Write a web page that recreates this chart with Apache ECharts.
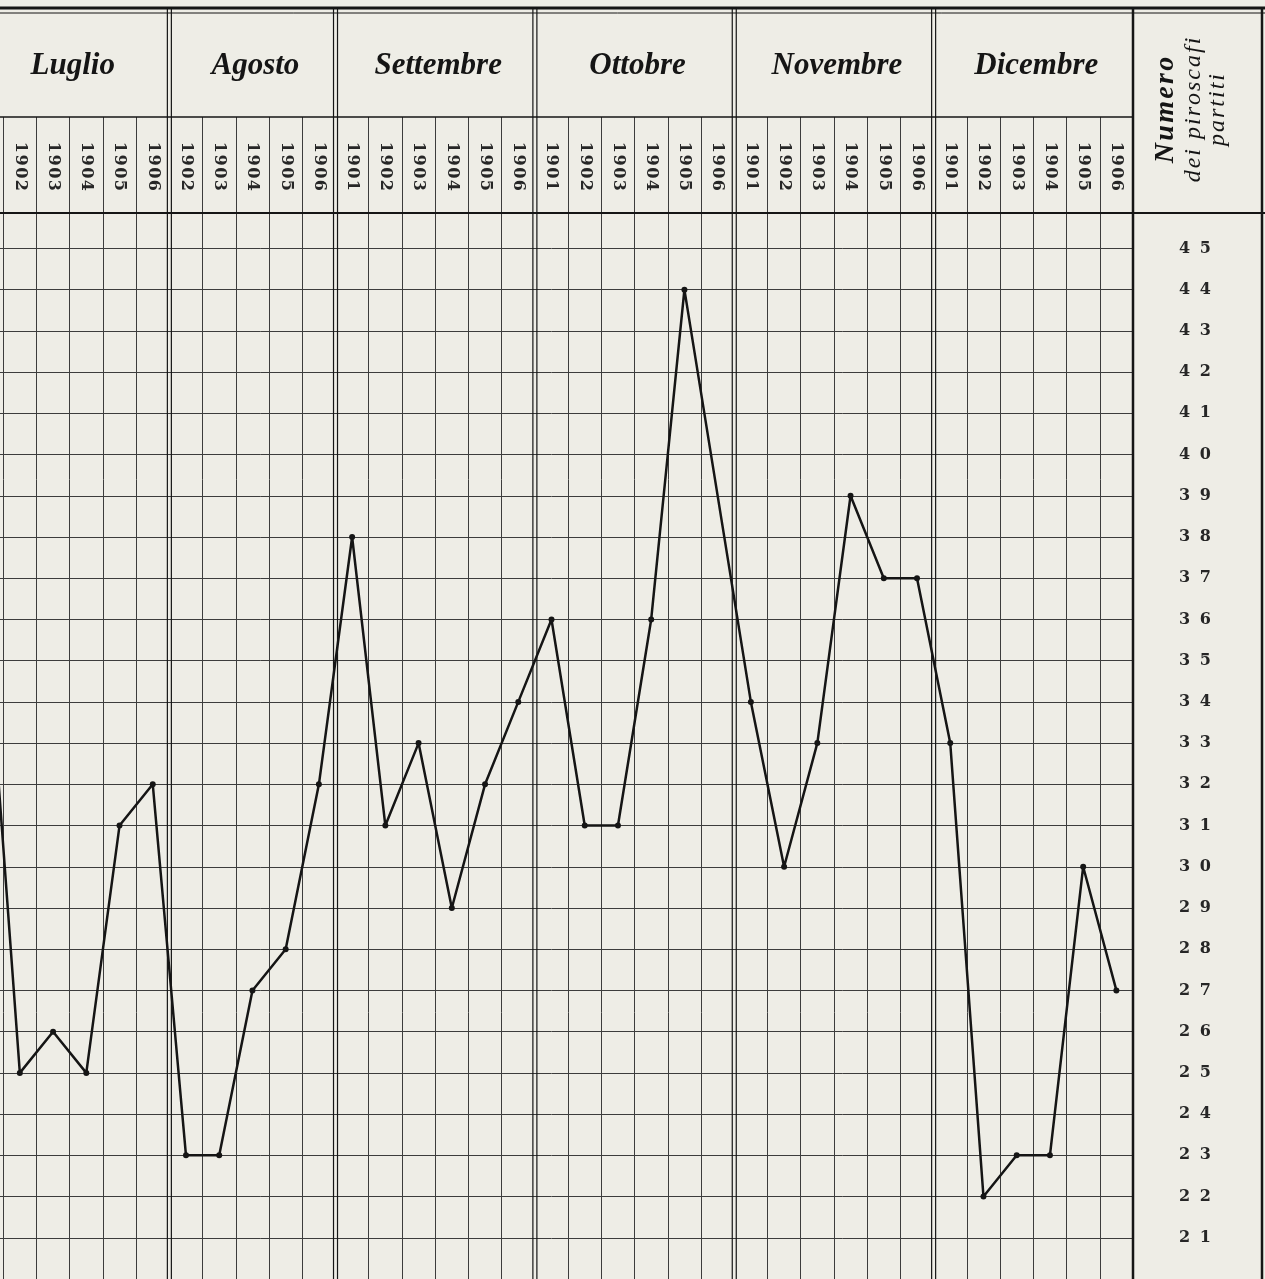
<!DOCTYPE html>
<html><head><meta charset="utf-8">
<script src="https://cdn.jsdelivr.net/npm/echarts@6/dist/echarts.min.js"></script>
<style>html,body{margin:0;padding:0;background:#eeede6;overflow:hidden;}#c{position:absolute;left:-30px;top:0;width:1295px;height:1279px;}</style>
</head><body><div id="c"></div>
<script>
// ---- data ----
const months = ['Luglio', 'Agosto', 'Settembre', 'Ottobre', 'Novembre', 'Dicembre'];
const yearsLuglio    = ['1901', '1902', '1903', '1904', '1905', '1906'];
const yearsAgosto    = ['1902', '1903', '1904', '1905', '1906'];
const yearsSettembre = ['1901', '1902', '1903', '1904', '1905', '1906'];
const yearsOttobre   = ['1901', '1902', '1903', '1904', '1905', '1906'];
const yearsNovembre  = ['1901', '1902', '1903', '1904', '1905', '1906'];
const yearsDicembre  = ['1901', '1902', '1903', '1904', '1905', '1906'];
const valuesLuglio    = [36, 25, 26, 25, 31, 32];
const valuesAgosto    = [23, 23, 27, 28, 32];
const valuesSettembre = [38, 31, 33, 29, 32, 34];
const valuesOttobre   = [36, 31, 31, 36, 44, null];
const valuesNovembre  = [34, 30, 33, 39, 37, 37];
const valuesDicembre  = [33, 22, 23, 23, 30, 27];
const yTickLabels = [21, 22, 23, 24, 25, 26, 27, 28, 29, 30, 31, 32, 33, 34, 35, 36, 37, 38, 39, 40, 41, 42, 43, 44, 45];
const yAxisTitle = ['Numero', 'dei piroscafi', 'partiti'];

// ---- build ----
const yearGroups = [yearsLuglio, yearsAgosto, yearsSettembre, yearsOttobre, yearsNovembre, yearsDicembre];
const valueGroups = [valuesLuglio, valuesAgosto, valuesSettembre, valuesOttobre, valuesNovembre, valuesDicembre];
const categories = [];
const values = [];
const monthStart = [];
yearGroups.forEach((ys, m) => {
  monthStart.push(categories.length);
  ys.forEach((y, k) => { categories.push(months[m] + '|' + y); values.push(valueGroups[m][k]); });
});
const monthStartSet = new Set(monthStart);
const spaced = (s, sep) => String(s).split('').join(sep);

const PAPER = '#eeede6';
const INK = '#151515';
const GRID = '#3c3c3c';

const el = document.getElementById('c');
const chart = echarts.init(el);
chart.setOption({
  backgroundColor: PAPER,
  animation: false,
  grid: { left: 0, right: 132, top: 213, bottom: -4, containLabel: false },
  xAxis: {
    type: 'category', data: categories, position: 'top', boundaryGap: true,
    axisLine: { show: false },
    axisTick: { show: true, length: 96, interval: (i) => !monthStartSet.has(i), lineStyle: { color: GRID, width: 1 } },
    axisLabel: {
      interval: 0, rotate: 90, margin: 22,
      formatter: v => spaced(v.split('|')[1], '\u200A'),
      fontFamily: 'DejaVu Serif', fontWeight: 'bold', fontSize: 16, color: '#262626'
    },
    splitLine: { show: true, interval: (i) => !monthStartSet.has(i), lineStyle: { color: GRID, width: 1 } }
  },
  yAxis: {
    type: 'value', position: 'right', min: 20, max: 45.86, interval: 1,
    axisLine: { show: false }, axisTick: { show: false },
    axisLabel: {
      margin: 62, align: 'center',
      formatter: v => (yTickLabels.indexOf(v) >= 0 ? spaced(v, '\u2002\u200A') : ''),
      fontFamily: 'DejaVu Serif', fontWeight: 'bold', fontSize: 16, color: '#262626'
    },
    splitLine: { show: true, lineStyle: { color: GRID, width: 1 } }
  },
  series: [{
    type: 'line', data: values, connectNulls: true,
    symbol: 'circle', symbolSize: 6,
    lineStyle: { color: INK, width: 2.5 },
    itemStyle: { color: INK },
    z: 5
  }]
});

// ---- frame and header text, placed through the axis scale ----
const px = i => chart.convertToPixel({ xAxisIndex: 0 }, i);
const band = px(1) - px(0);
const boundary = i => px(i) - band / 2;
const W = el.clientWidth, H = el.clientHeight;
const topY = 8, monthRowY = 117, headerY = 213;
const rightEdge = boundary(categories.length);
const g = [];
const line = (x1, y1, x2, y2, w) => g.push({ type: 'line', silent: true, z: 20, shape: { x1, y1, x2, y2 }, style: { stroke: INK, lineWidth: w } });

line(0, topY, W, topY, 3);
line(0, topY + 5, W, topY + 5, 1);
line(0, monthRowY, rightEdge, monthRowY, 1.6);
line(0, headerY, W, headerY, 2);
monthStart.slice(1).forEach(i => {
  const x = boundary(i);
  line(x - 2, topY, x - 2, H, 1.2);
  line(x + 2, topY, x + 2, H, 1.2);
});
line(rightEdge, topY, rightEdge, H, 2.5);
line(W - 3, topY, W - 3, H, 2.5);

monthStart.forEach((s, m) => {
  const e = m + 1 < monthStart.length ? monthStart[m + 1] - 1 : categories.length - 1;
  g.push({ type: 'text', z: 30, silent: true, x: (px(s) + px(e)) / 2 + 3, y: 66,
    style: { text: months[m], font: 'italic bold 31px "Liberation Serif"', fill: INK, align: 'center', verticalAlign: 'middle' } });
});
const titleX = [rightEdge + 33, rightEdge + 61, rightEdge + 85];
const titleFont = ['italic bold 28px "Liberation Serif"', 'italic 24px "Liberation Serif"', 'italic 24px "Liberation Serif"'];
yAxisTitle.forEach((t, k) => {
  g.push({ type: 'text', z: 30, silent: true, x: titleX[k], y: 110, rotation: Math.PI / 2,
    style: { text: spaced(t, '\u200A'), font: titleFont[k], fill: INK, align: 'center', verticalAlign: 'middle' } });
});
chart.setOption({ graphic: g });
</script></body></html>
